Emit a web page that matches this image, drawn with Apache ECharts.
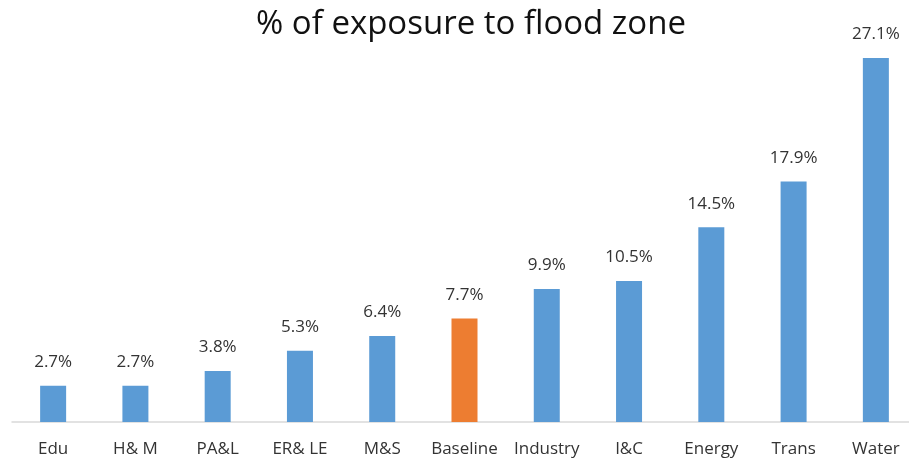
<!DOCTYPE html>
<html>
<head>
<meta charset="utf-8">
<script src="https://cdn.jsdelivr.net/npm/echarts@6/dist/echarts.min.js"></script>
<style>
  html, body { margin: 0; padding: 0; background: #fff; overflow: hidden; }
  /* the plot runs a few pixels past the right edge of the window */
  #chart { width: 918px; height: 462px; }
</style>
</head>
<body>
<div id="chart"></div>
<script>
// Sectors and their share of assets inside the flood zone (%)
const categories = ['Edu', 'H& M', 'PA&L', 'ER& LE', 'M&S', 'Baseline', 'Industry', 'I&C', 'Energy', 'Trans', 'Water'];
const exposure = [2.7, 2.7, 3.8, 5.3, 6.4, 7.7, 9.9, 10.5, 14.5, 17.9, 27.1];
const highlighted = 'Baseline';

const BLUE = '#5B9BD5';
const ORANGE = '#ED7D31';
const FONT = '"Open Sans", Lato, sans-serif';

const chart = echarts.init(document.getElementById('chart'));
chart.setOption({
  animation: false,
  title: {
    text: '% of exposure to flood zone',
    left: 251,
    top: 3,
    textStyle: { fontFamily: FONT, fontSize: 33, fontWeight: 'normal', color: '#111' }
  },
  grid: { left: 12, right: 1, top: 19, bottom: 40, containLabel: false },
  xAxis: {
    type: 'category',
    data: categories,
    axisLine: { lineStyle: { color: '#D9D9D9', width: 1.5 } },
    axisTick: { show: false },
    axisLabel: { fontFamily: FONT, fontSize: 17, color: '#333', margin: 19, interval: 0 }
  },
  yAxis: {
    type: 'value',
    min: 0,
    max: 30,
    show: false,
    splitLine: { show: false }
  },
  series: [{
    type: 'bar',
    barWidth: 26,
    data: exposure.map((v, i) => ({
      value: v,
      itemStyle: { color: categories[i] === highlighted ? ORANGE : BLUE }
    })),
    label: {
      show: true,
      position: 'top',
      distance: 15,
      formatter: p => p.value.toFixed(1) + '%',
      fontFamily: FONT,
      fontSize: 17,
      color: '#333'
    }
  }]
});
</script>
</body>
</html>
